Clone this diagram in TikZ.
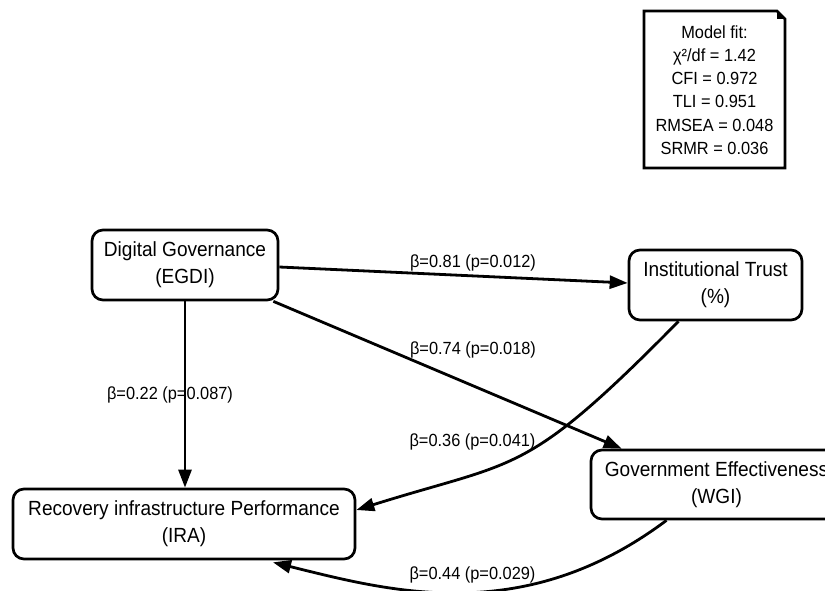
\documentclass[tikz,border=0pt]{standalone}
\usepackage{fontspec}
\setmainfont{Liberation Sans}[FakeStretch=0.93]
\usetikzlibrary{arrows.meta}
\begin{document}
\begin{tikzpicture}[x=1pt,y=-1pt,
  box/.style={draw, line width=2.7pt, rounded corners=11pt, align=center, inner sep=0pt, font=\fontsize{20.5}{27}\selectfont},
  conn/.style={line width=2.8pt, -{Triangle[length=18pt,width=13pt]}},
  lbl/.style={inner sep=0pt, font=\fontsize{17.6}{20}\selectfont},
  fitbox/.style={line width=2.7pt, line join=miter}]
\useasboundingbox (0,0) rectangle (825,591);
\fill[white] (0,0) rectangle (825,591);
\clip (0,0) rectangle (825,591);

% nodes
\node[box, minimum width=186pt, minimum height=70pt] (egdi) at (185,265) {Digital Governance\\(EGDI)};
\node[box, minimum width=173pt, minimum height=70pt] (trust) at (715.5,285) {Institutional Trust\\(\%)};
\node[box, minimum width=342pt, minimum height=70pt] (ira) at (184,524) {Recovery infrastructure Performance\\(IRA)};
\node[box, minimum width=251pt, minimum height=69pt] (wgi) at (716.5,484.5) {Government Effectiveness\\(WGI)};

% model fit note
\draw[fitbox] (644,11) -- (777,11) -- (785,19) -- (785,168) -- (644,168) -- cycle;
\fill (777,11) -- (785,19) -- (777,19) -- cycle;
\node[inner sep=0pt, align=center, font=\fontsize{17.6}{23.2}\selectfont] (fit) at (714.5,90) {Model fit:\\χ²/df = 1.42\\CFI = 0.972\\TLI = 0.951\\RMSEA = 0.048\\SRMR = 0.036};

% connectors
\draw[conn] ([yshift=-2pt]egdi.east) -- ([yshift=2pt]trust.west);
\draw[conn] ([xshift=-6pt]egdi.south east) -- ([xshift=32pt]wgi.north west);
\draw[conn] (egdi.south) -- (egdi.south |- ira.north);
\draw[conn] ([xshift=-37pt]trust.south) .. controls (524,478) and (519,459) .. ([yshift=14pt]ira.east);
\draw[conn] ([xshift=-50pt]wgi.south) .. controls (523,628) and (389,591) .. ([xshift=89pt,yshift=-2pt]ira.south);

% labels
\node[lbl] (l1) at (473,263) {β=0.81 (p=0.012)};
\node[lbl] (l2) at (473,350) {β=0.74 (p=0.018)};
\node[lbl] (l3) at (170,395) {β=0.22 (p=0.087)};
\node[lbl] (l4) at (472.5,442) {β=0.36 (p=0.041)};
\node[lbl] (l5) at (472.5,575) {β=0.44 (p=0.029)};
\end{tikzpicture}
\end{document}
